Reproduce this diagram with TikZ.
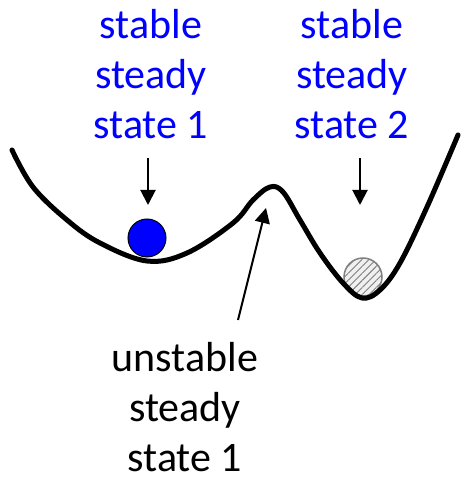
\documentclass[tikz,border=0pt]{standalone}
\usepackage{fontspec}
\setmainfont{Carlito}
\usetikzlibrary{arrows.meta,patterns.meta}
\tikzset{
  lbl/.style={font=\fontsize{42}{50}\selectfont, align=center, inner sep=0pt, anchor=north},
  arr/.style={line width=2pt, -{Triangle[length=15pt,width=15pt]}},
  well/.style={line width=5pt, line cap=round, line join=round},
}
\begin{document}
\begin{tikzpicture}[x=1pt,y=1pt]
\useasboundingbox (0,0) rectangle (461,480);
% labels
\node[lbl, text=blue] (s1) at (151,471) {stable\\steady\\state 1};
\node[lbl, text=blue] (s2) at (352,471) {stable\\steady\\state 2};
\node[lbl] (u1) at (185,138) {unstable\\steady\\state 1};
% balls
\node[circle, minimum size=38pt, inner sep=0pt, fill=blue, draw=black, line width=1pt] (b1) at (147,242) {};
\node[circle, minimum size=38pt, inner sep=0pt, fill=gray!12, draw=gray, line width=1.5pt,
  postaction={pattern={Lines[angle=45,distance=5pt,line width=0.9pt]}, pattern color=gray}] (b2) at (363,203) {};
% arrow endpoints
\coordinate (a1s) at (148,322);
\coordinate (a1e) at (148,275);
\coordinate (a2s) at (360,322);
\coordinate (a2e) at (360,275);
\coordinate (a3s) at (238,160);
\coordinate (a3e) at (266,272);
\draw[arr] (a1s) -- (a1e);
\draw[arr] (a2s) -- (a2e);
\draw[arr] (a3s) -- (a3e);
% potential curve
\draw[well] plot[smooth, tension=0.6] coordinates {
 (12,330) (33,293) (67,260) (100,237) (147,219) (187,227) (233,257) (253,280)
 (270,293) (283,288) (300,260) (320,227) (343,197) (362,182) (380,190) (400,217)
 (427,273) (458,345)};
\end{tikzpicture}
\end{document}
